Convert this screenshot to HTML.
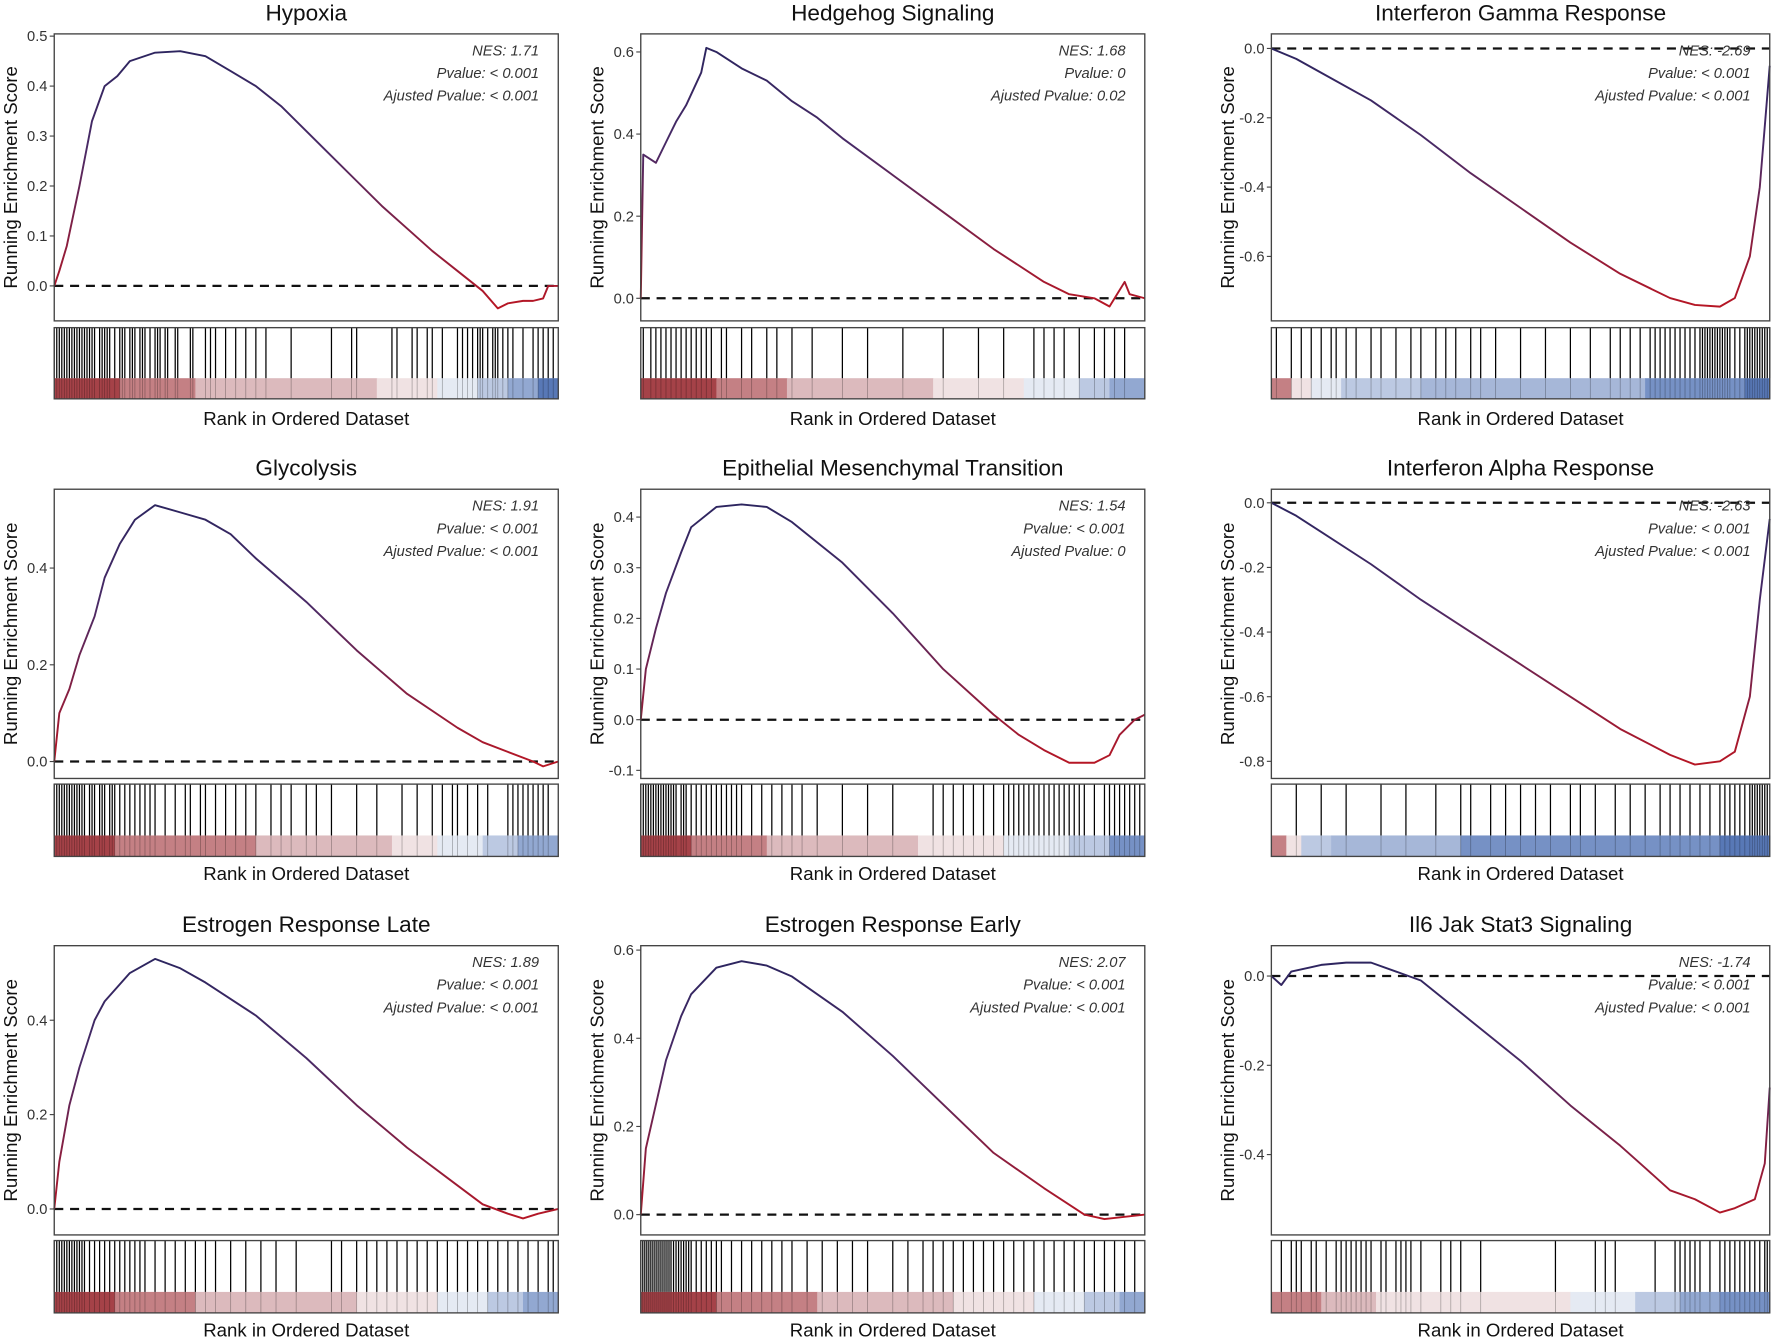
<!DOCTYPE html>
<html><head><meta charset="utf-8">
<style>
html,body{margin:0;padding:0;background:#fff;}
svg{display:block;font-family:"Liberation Sans",Arial,sans-serif;}
</style></head>
<body>
<svg id="fig" width="1772" height="1340" viewBox="0 0 1568 1186" preserveAspectRatio="none" xmlns="http://www.w3.org/2000/svg">
<defs id="defs"></defs>
</svg>
<script>
const titles=["Hypoxia","Hedgehog Signaling","Interferon Gamma Response","Glycolysis","Epithelial Mesenchymal Transition","Interferon Alpha Response","Estrogen Response Late","Estrogen Response Early","Il6 Jak Stat3 Signaling"];
const nesLabels=["NES: 1.71","NES: 1.68","NES: -2.69","NES: 1.91","NES: 1.54","NES: -2.63","NES: 1.89","NES: 2.07","NES: -1.74"];
const pvalLabels=["Pvalue: < 0.001","Pvalue: 0","Pvalue: < 0.001","Pvalue: < 0.001","Pvalue: < 0.001","Pvalue: < 0.001","Pvalue: < 0.001","Pvalue: < 0.001","Pvalue: < 0.001"];
const padjLabels=["Ajusted Pvalue: < 0.001","Ajusted Pvalue: 0.02","Ajusted Pvalue: < 0.001","Ajusted Pvalue: < 0.001","Ajusted Pvalue: 0","Ajusted Pvalue: < 0.001","Ajusted Pvalue: < 0.001","Ajusted Pvalue: < 0.001","Ajusted Pvalue: < 0.001"];
const yDomains=[[-0.070,0.5045],[-0.055,0.644],[-0.786,0.042],[-0.035,0.563],[-0.116,0.455],[-0.853,0.042],[-0.055,0.558],[-0.046,0.61],[-0.58,0.068]];
const yTicks=[[0,0.1,0.2,0.3,0.4,0.5],[0,0.2,0.4,0.6],[-0.6,-0.4,-0.2,0],[0,0.2,0.4],[-0.1,0,0.1,0.2,0.3,0.4],[-0.8,-0.6,-0.4,-0.2,0],[0,0.2,0.4],[0,0.2,0.4,0.6],[-0.4,-0.2,0]];
const rankX=[
[0,.01,.025,.05,.075,.1,.125,.15,.2,.25,.3,.35,.4,.45,.5,.55,.6,.65,.7,.75,.8,.85,.88,.9,.93,.95,.97,.98,1],
[0,.005,.03,.05,.07,.09,.12,.13,.15,.2,.25,.3,.35,.4,.5,.6,.7,.8,.85,.9,.93,.96,.97,1],
[0,.05,.1,.2,.3,.4,.5,.6,.7,.8,.85,.9,.93,.96,.98,1],
[0,.01,.03,.05,.08,.1,.13,.16,.2,.25,.3,.35,.4,.5,.6,.7,.8,.85,.9,.95,.97,1],
[0,.01,.03,.05,.08,.1,.15,.2,.25,.3,.4,.5,.6,.7,.75,.8,.85,.9,.93,.95,.98,1],
[0,.05,.1,.2,.3,.4,.5,.6,.7,.8,.85,.9,.93,.96,.98,1],
[0,.01,.03,.05,.08,.1,.15,.2,.25,.3,.4,.5,.6,.7,.8,.85,.9,.93,.96,1],
[0,.01,.03,.05,.08,.1,.15,.2,.25,.3,.4,.5,.6,.7,.8,.88,.92,.96,1],
[0,.02,.04,.08,.1,.15,.2,.25,.3,.4,.5,.6,.7,.75,.8,.85,.9,.93,.97,.99,1]];
const esValues=[
[0,.03,.08,.2,.33,.4,.42,.45,.467,.47,.46,.43,.4,.36,.31,.26,.21,.16,.115,.07,.03,-.01,-.045,-.035,-.03,-.03,-.025,0,0],
[0,.35,.33,.38,.43,.47,.55,.61,.6,.56,.53,.48,.44,.39,.3,.21,.12,.04,.01,0,-.02,.04,.01,0],
[0,-.03,-.07,-.15,-.25,-.36,-.46,-.56,-.65,-.72,-.74,-.745,-.72,-.6,-.4,-.05],
[0,.1,.15,.22,.3,.38,.45,.5,.53,.515,.5,.47,.42,.33,.23,.14,.07,.04,.02,0,-.01,0],
[0,.1,.18,.25,.33,.38,.42,.425,.42,.39,.31,.21,.1,.01,-.03,-.06,-.085,-.085,-.07,-.03,0,.01],
[0,-.04,-.09,-.19,-.3,-.4,-.5,-.6,-.7,-.78,-.81,-.8,-.77,-.6,-.3,-.05],
[0,.1,.22,.3,.4,.44,.5,.53,.51,.48,.41,.32,.22,.13,.05,.01,-.01,-.02,-.01,0],
[0,.15,.25,.35,.45,.5,.56,.575,.565,.54,.46,.36,.25,.14,.06,0,-.01,-.005,0],
[0,-.02,.01,.02,.025,.03,.03,.01,-.01,-.1,-.19,-.29,-.38,-.43,-.48,-.5,-.53,-.52,-.5,-.42,-.25]];
const hitRanks=[
[0,.005,.01,.015,.02,.025,.03,.035,.04,.045,.05,.055,.06,.065,.07,.075,.08,.09,.095,.1,.105,.11,.12,.13,.135,.14,.15,.155,.16,.17,.175,.18,.19,.2,.205,.21,.22,.225,.24,.245,.27,.275,.3,.31,.32,.34,.36,.38,.4,.42,.47,.55,.59,.6,.67,.68,.71,.72,.74,.75,.77,.8,.81,.82,.83,.84,.845,.85,.86,.87,.875,.88,.89,.9,.91,.93,.95,.96,.97,.98,.99],
[.005,.02,.03,.04,.05,.06,.07,.08,.09,.1,.11,.12,.13,.14,.16,.17,.2,.22,.25,.27,.3,.34,.4,.45,.52,.6,.67,.72,.78,.8,.82,.84,.87,.9,.92,.94,.96],
[.01,.04,.06,.08,.1,.12,.13,.15,.17,.2,.22,.25,.28,.3,.33,.35,.37,.4,.42,.45,.5,.55,.6,.64,.68,.7,.72,.74,.76,.77,.78,.79,.8,.81,.82,.83,.84,.85,.86,.865,.87,.875,.88,.885,.89,.895,.9,.905,.91,.915,.92,.93,.94,.95,.955,.96,.965,.97,.975,.98,.985,.99,.995,1],
[0,.005,.01,.015,.02,.025,.03,.035,.04,.045,.05,.055,.06,.07,.075,.08,.09,.095,.1,.11,.115,.12,.13,.14,.15,.16,.17,.18,.19,.2,.22,.24,.26,.27,.29,.3,.32,.34,.36,.38,.4,.43,.45,.47,.5,.52,.55,.6,.64,.69,.72,.75,.77,.79,.8,.82,.84,.86,.9,.91,.92,.93,.94,.95,.96,.97,.98],
[0,.005,.01,.015,.02,.025,.03,.035,.04,.045,.05,.055,.06,.065,.07,.08,.085,.09,.1,.11,.12,.13,.14,.15,.16,.17,.18,.19,.2,.22,.24,.26,.28,.3,.32,.35,.4,.45,.5,.58,.6,.62,.64,.66,.68,.7,.72,.73,.74,.75,.76,.77,.78,.79,.8,.81,.82,.83,.84,.85,.86,.87,.88,.9,.92,.93,.94,.95,.96,.97,.98,.99],
[.05,.1,.15,.22,.27,.33,.38,.4,.44,.47,.5,.53,.56,.6,.62,.65,.69,.72,.75,.78,.8,.82,.84,.86,.88,.9,.91,.92,.93,.94,.95,.96,.965,.97,.975,.98,.985,.99,.995],
[0,.005,.01,.015,.02,.025,.03,.035,.04,.045,.05,.055,.06,.07,.08,.09,.1,.11,.12,.13,.14,.15,.16,.17,.18,.2,.22,.24,.26,.28,.3,.32,.35,.38,.41,.44,.48,.55,.57,.6,.62,.64,.66,.68,.7,.72,.74,.76,.78,.8,.82,.84,.86,.88,.9,.92,.94,.96,.98,.99],
[0,.004,.008,.012,.016,.02,.024,.028,.032,.036,.04,.044,.048,.052,.056,.06,.065,.07,.075,.08,.085,.09,.095,.1,.11,.12,.13,.14,.15,.16,.18,.2,.22,.24,.26,.28,.3,.33,.36,.39,.42,.45,.5,.53,.56,.58,.6,.62,.64,.66,.68,.7,.72,.74,.76,.78,.8,.82,.84,.86,.88,.9,.92,.94,.96,.98],
[.02,.04,.05,.06,.08,.09,.11,.13,.14,.15,.16,.17,.18,.19,.2,.22,.23,.25,.26,.27,.28,.3,.34,.36,.38,.42,.57,.65,.67,.69,.77,.81,.82,.83,.84,.85,.86,.88,.9,.91,.92,.93,.94,.95,.96,.97,.98,.99,.995]];
const bandStarts=[
[0,.13,.28,.64,.76,.84,.9,.96],[0,.15,.29,.58,.76,.87,.93],[0,.04,.08,.14,.3,.75,.95],
[0,.12,.4,.67,.76,.85,.92],[0,.1,.25,.55,.72,.85,.93],[0,.03,.06,.12,.38,.9],
[0,.12,.28,.6,.76,.86,.93],[0,.15,.35,.62,.78,.88,.95],[0,.1,.21,.6,.73,.82,.9]];
const bandLevels=[
[3,2,1,.5,-.5,-1,-2,-3],[3,2,1,.5,-.5,-1,-2],[2,.5,-.5,-1,-1.5,-2.5,-3],
[3,2,1,.5,-.5,-1,-2],[3,2,1,.5,-.5,-1,-2.5],[2,.5,-1,-1.5,-2.5,-3],
[3,2,1,.5,-.5,-1,-2],[3,2,1,.5,-.5,-1,-2],[2,1,.5,-.5,-1,-2,-2.5]];

const NS="http://www.w3.org/2000/svg";
const svg=document.getElementById('fig');
const defs=document.getElementById('defs');
const colX=[[48,494],[567,1013],[1125,1566]];
const rowY=[{t:11,p:[30,284],r:[290,353],xl:370},{t:414,p:[433,689],r:[694,758],xl:773},{t:818,p:[837,1093],r:[1098,1162],xl:1177}];
function mk(tag,attrs,parent){const e=document.createElementNS(NS,tag);for(const k in attrs)e.setAttribute(k,attrs[k]);(parent||svg).appendChild(e);return e;}
function levelColor(l){
  const pos=[[3,[165,66,72]],[2,[196,128,132]],[1,[220,186,189]],[.5,[240,226,227]],[0,[250,250,250]],[-.5,[229,234,243]],[-1,[188,201,226]],[-1.5,[166,183,216]],[-2,[146,168,209]],[-2.5,[118,145,197]],[-3,[88,120,182]]];
  for(let i=0;i<pos.length-1;i++){const a=pos[i],b=pos[i+1];if(l<=a[0]&&l>=b[0]){const t=(a[0]-l)/(a[0]-b[0]);return 'rgb('+a[1].map((v,j)=>Math.round(v+(b[1][j]-v)*t)).join(',')+')';}}
  return 'rgb(250,250,250)';
}
for(let i=0;i<9;i++){
  const c=i%3,r=Math.floor(i/3);
  const [x0,x1]=colX[c];const R=rowY[r];const [py0,py1]=R.p;
  const [dmin,dmax]=yDomains[i];
  const xs=f=>x0+f*(x1-x0);
  const ys=v=>py1-(v-dmin)/(dmax-dmin)*(py1-py0);
  const g=mk('g',{});
  
  
  const t=mk('text',{x:(x0+x1)/2,y:R.t+7,'text-anchor':'middle','font-size':20,fill:'#111'},g);
  t.textContent=titles[i];
  
  
  const gid='lg'+i;
  const lg=mk('linearGradient',{id:gid,gradientUnits:'userSpaceOnUse',x1:0,y1:py0,x2:0,y2:py1},defs);
  mk('stop',{offset:0,'stop-color':'#28245e'},lg);
  mk('stop',{offset:0.4,'stop-color':'#4a2a66'},lg);
  mk('stop',{offset:1,'stop-color':'#c0141e'},lg);
  const zl=mk('line',{x1:x0,x2:x1,y1:ys(0),y2:ys(0),stroke:'#111','stroke-width':2,'stroke-dasharray':'8,6'},g);
  
  
  const d=rankX[i].map((f,k)=>(k?'L':'M')+xs(f).toFixed(1)+','+ys(esValues[i][k]).toFixed(1)).join('');
  const cv=mk('path',{d:d,fill:'none',stroke:'url(#'+gid+')','stroke-width':1.7,'stroke-linejoin':'round'},g);
  
  
  const bx=mk('rect',{x:x0,y:py0,width:x1-x0,height:py1-py0,fill:'none',stroke:'#444','stroke-width':1.2},g);
  
  
  yTicks[i].forEach(v=>{
    const yy=ys(v);
    mk('line',{x1:x0-4,x2:x0,y1:yy,y2:yy,stroke:'#444','stroke-width':1},g);
    const tl=mk('text',{x:x0-6,y:yy+4.5,'text-anchor':'end','font-size':13,fill:'#333'},g);
    tl.textContent=v.toFixed(1);
    
    
  });
  const yt=mk('text',{x:0,y:0,'text-anchor':'middle','font-size':16.5,fill:'#111',transform:'translate('+(x0-33)+','+((py0+py1)/2)+') rotate(-90)'},g);
  yt.textContent='Running Enrichment Score';
  
  
  [nesLabels[i],pvalLabels[i],padjLabels[i]].forEach((s,k)=>{
    const a=mk('text',{x:x1-17,y:py0+19+k*20,'text-anchor':'end','font-size':13,'font-style':'italic',fill:'#333'},g);
    a.textContent=s;
    
    
  });
  const [ry0,ry1]=R.r;const bandTop=ry1-(ry1-ry0)*0.29;
  const bs=bandStarts[i];
  bs.forEach((s,k)=>{
    const e=k<bs.length-1?bs[k+1]:1;
    const br=mk('rect',{x:xs(s),y:bandTop,width:xs(e)-xs(s)+0.5,height:ry1-bandTop,fill:levelColor(bandLevels[i][k])},g);
    
    
  });
  hitRanks[i].forEach(f=>{
    const hl=mk('line',{x1:xs(f),x2:xs(f),y1:ry0,y2:bandTop,stroke:'#000','stroke-width':1.1},g);
    
    
    mk('line',{x1:xs(f),x2:xs(f),y1:bandTop,y2:ry1,stroke:'#000','stroke-width':0.7,'stroke-opacity':0.3},g);
  });
  const rb=mk('rect',{x:x0,y:ry0,width:x1-x0,height:ry1-ry0,fill:'none',stroke:'#444','stroke-width':1.2},g);
  
  
  const xl=mk('text',{x:(x0+x1)/2,y:R.xl+6,'text-anchor':'middle','font-size':16.5,fill:'#111'},g);
  xl.textContent='Rank in Ordered Dataset';
  
  
}
</script>
</body></html>
